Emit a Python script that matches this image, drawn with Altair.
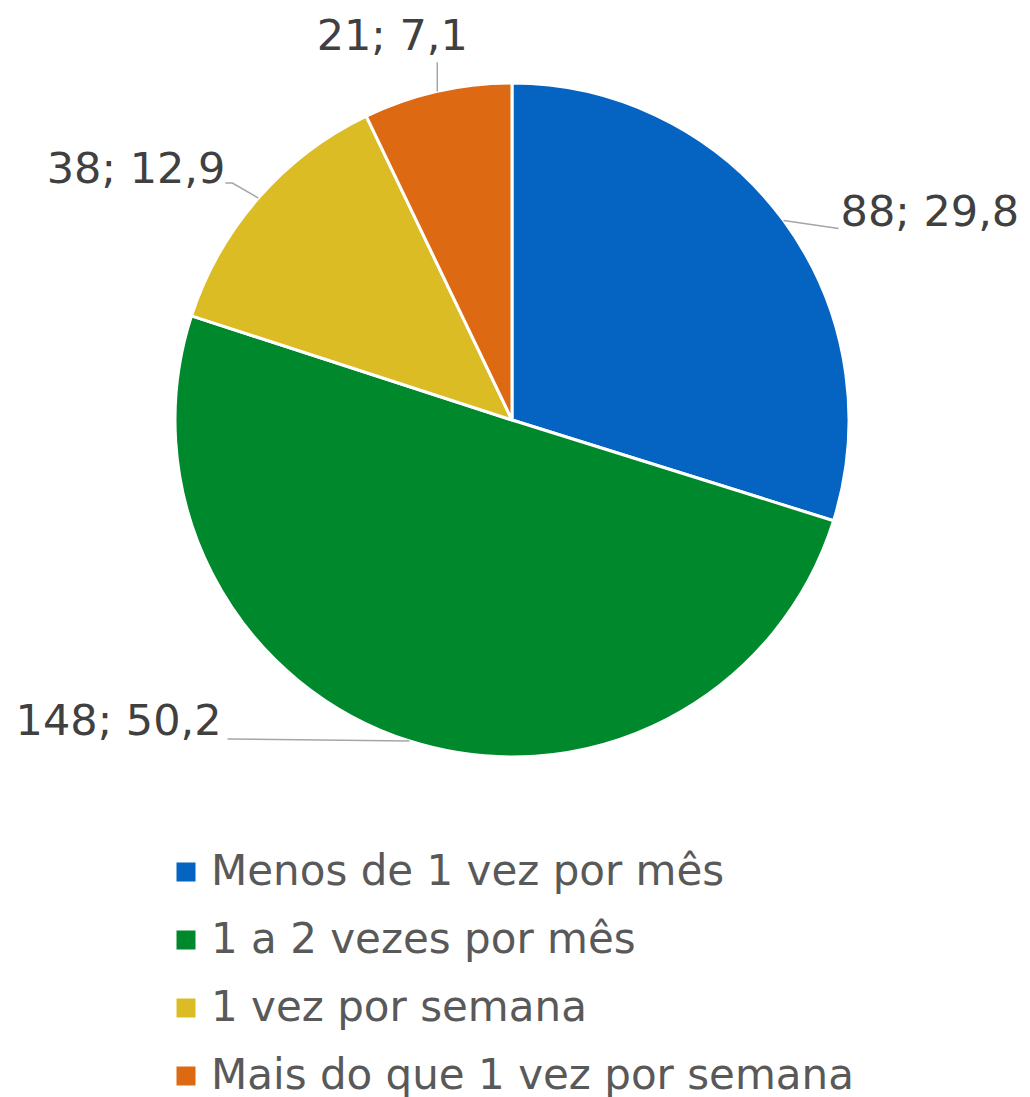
import math
import altair as alt
import pandas as pd

# ---- data ----
categories = ["Menos de 1 vez por mês", "1 a 2 vezes por mês", "1 vez por semana", "Mais do que 1 vez por semana"]
counts = [88, 148, 38, 21]
percents = ["29,8", "50,2", "12,9", "7,1"]
colors = ["#0563C1", "#00882D", "#DBBC25", "#DD6A12"]

# ---- layout (pixels, chart coordinates) ----
W, H = 1014, 1089
CX, CY, R = 504, 412, 337
# leader polyline offsets from slice-edge point, text offset and alignment
leader_offsets = [
    [(0, 0), (55, 8)],
    [(0, 0), (-182, -2)],
    [(0, 0), (-26, -15), (-33, -15)],
    [(0, 0), (0, -29)],
]
text_offsets = [(57, -7), (-188, -19), (-33, -28), (-45, -54)]
text_aligns = ["left", "right", "right", "center"]

total = sum(counts)
df = pd.DataFrame({
    "cat": categories,
    "value": counts,
    "idx": list(range(len(categories))),
    "label": [f"{c}; {p}" for c, p in zip(counts, percents)],
})

# mid angles from cumulative data
cum = 0
starts = []
for v in counts:
    mid = (cum + v / 2) / total * 2 * math.pi
    starts.append((CX + R * math.sin(mid), CY - R * math.cos(mid)))
    cum += v

line_rows = []
for i, (sx, sy) in enumerate(starts):
    for j, (dx, dy) in enumerate(leader_offsets[i]):
        line_rows.append({"cat": categories[i], "k": j, "x": sx + dx, "y": sy + dy})
lines_df = pd.DataFrame(line_rows)

text_rows = []
for i, (sx, sy) in enumerate(starts):
    text_rows.append({"label": df["label"][i], "x": sx + text_offsets[i][0],
                      "y": sy + text_offsets[i][1], "align": text_aligns[i]})
text_df = pd.DataFrame(text_rows)

xs = alt.Scale(domain=[0, W], range=[0, W])
ys = alt.Scale(domain=[0, H], range=[0, H])

pie = alt.Chart(df).mark_arc(outerRadius=R, stroke="white", strokeWidth=3).encode(
    theta=alt.Theta("value:Q", stack=True),
    color=alt.Color("cat:N", scale=alt.Scale(domain=categories, range=colors),
                    sort=categories,
                    legend=alt.Legend(orient="none", legendX=157, legendY=843, title=None,
                                      symbolType="square", symbolSize=361,
                                      symbolStrokeWidth=0,
                                      labelFont="DejaVu Sans", labelFontSize=42,
                                      labelColor="#595959", rowPadding=26,
                                      labelOffset=4, labelLimit=0,
                                      direction="vertical")),
    order=alt.Order("idx:Q"),
    x=alt.value(CX),
    y=alt.value(CY),
)

leaders = alt.Chart(lines_df).mark_line(color="#A6A6A6", strokeWidth=1.5).encode(
    x=alt.X("x:Q", scale=xs, axis=None),
    y=alt.Y("y:Q", scale=ys, axis=None),
    detail="cat:N",
    order="k:Q",
)

text_layers = []
for a in ["left", "right", "center"]:
    text_layers.append(
        alt.Chart(text_df).transform_filter(alt.datum.align == a).mark_text(
            align=a, baseline="middle", font="DejaVu Sans", fontSize=43, color="#404040"
        ).encode(
            x=alt.X("x:Q", scale=xs, axis=None),
            y=alt.Y("y:Q", scale=ys, axis=None),
            text="label:N",
        )
    )

chart = alt.layer(pie, leaders, *text_layers).properties(
    width=W, height=H, padding=0, autosize=alt.AutoSizeParams(type="none")
).configure_view(stroke=None).resolve_scale(x="shared", y="shared")

chart.save("out.html", embed_options={"renderer": "svg", "actions": False})
